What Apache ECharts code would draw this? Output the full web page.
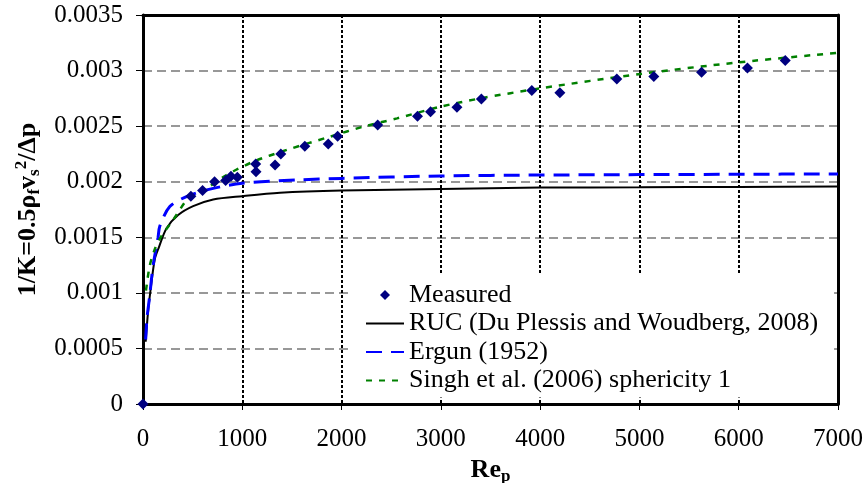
<!DOCTYPE html>
<html>
<head>
<meta charset="utf-8">
<script src="https://cdn.jsdelivr.net/npm/echarts@6/dist/echarts.min.js"></script>
<style>
html,body{margin:0;padding:0;background:#fff;}
#chart{width:867px;height:483px;}
</style>
</head>
<body>
<div id="chart"></div>
<script>
// ---- data ----
var measuredRe = [0, 482, 600, 721, 832, 886, 950, 1135, 1138, 1330, 1388, 1630, 1866, 1960, 2364, 2765, 2896, 3162, 3408, 3916, 4199, 4772, 5145, 5626, 6088, 6469];
var measuredVal = [0, 0.00187, 0.00192, 0.00200, 0.00201, 0.00205, 0.00204, 0.00216, 0.00209, 0.00215, 0.00225, 0.00232, 0.00234, 0.00241, 0.00251, 0.00259, 0.00263, 0.00267, 0.002745, 0.00282, 0.00280, 0.002925, 0.002946, 0.002985, 0.003024, 0.00309];

var rucRe  = [27, 50, 74, 118, 160, 236, 354, 505, 707, 1000, 1380, 2000, 3000, 4000, 5000, 6000, 7000];
var rucVal = [0.00056, 0.00082, 0.00101, 0.00130, 0.00141, 0.00158, 0.00170, 0.00178, 0.00184, 0.00187, 0.00190, 0.00192, 0.001935, 0.001947, 0.00195, 0.001953, 0.001956];

var ergunRe  = [27, 40, 67, 101, 152, 169, 270, 438, 707, 1000, 1549, 2000, 3000, 4000, 5000, 6000, 7000];
var ergunVal = [0.00058, 0.00077, 0.00097, 0.00124, 0.00150, 0.00160, 0.001776, 0.001866, 0.00194, 0.001986, 0.002016, 0.00203, 0.002052, 0.00206, 0.002064, 0.002067, 0.00207];

var singhRe  = [30, 67, 118, 178, 303, 472, 640, 842, 1111, 1448, 1886, 2222, 2559, 3000, 3401, 4000, 5010, 6010, 7000];
var singhVal = [0.00102, 0.00124, 0.00139, 0.00150, 0.001656, 0.001866, 0.00194, 0.00206, 0.00218, 0.002286, 0.002406, 0.002496, 0.00257, 0.002676, 0.00275, 0.00284, 0.00297, 0.003075, 0.00316];

var xTicks = [0, 1000, 2000, 3000, 4000, 5000, 6000, 7000];
var xTickLabels = ['0', '1000', '2000', '3000', '4000', '5000', '6000', '7000'];
var yTicks = [0, 0.0005, 0.001, 0.0015, 0.002, 0.0025, 0.003, 0.0035];
var yTickLabels = ['0', '0.0005', '0.001', '0.0015', '0.002', '0.0025', '0.003', '0.0035'];

var seriesNames = ['Measured', 'RUC (Du Plessis and Woudberg, 2008)', 'Ergun (1952)', 'Singh et al. (2006) sphericity 1'];

function pairs(xs, ys) { return xs.map(function (x, i) { return [x, ys[i]]; }); }
function lookup(ticks, labels) {
  return function (v) {
    for (var i = 0; i < ticks.length; i++) {
      if (Math.abs(ticks[i] - v) < 1e-9) return labels[i];
    }
    return '';
  };
}

var FONT = "'Liberation Serif', 'Times New Roman', serif";
var XMIN = xTicks[0], XMAX = xTicks[xTicks.length - 1];
var YMIN = yTicks[0], YMAX = yTicks[yTicks.length - 1];

var borderAxis = {
  axisLine: {show: true, onZero: false, lineStyle: {color: '#000', width: 3}},
  axisTick: {show: false}, axisLabel: {show: false}, splitLine: {show: false}
};

var chart = echarts.init(document.getElementById('chart'), null, {renderer: 'canvas'});
chart.setOption({
  animation: false,
  backgroundColor: '#fff',
  grid: {
    left: 143, top: 15, width: 695, height: 389,
    outerBoundsMode: 'none', containLabel: false, show: false
  },
  legend: {
    orient: 'vertical',
    left: 352, top: 275,
    padding: [6, 16, 3, 13],
    backgroundColor: '#fff',
    itemWidth: 38, itemHeight: 10, itemGap: 0.5,
    symbolKeepAspect: true,
    textStyle: {fontFamily: FONT, fontSize: 26, color: '#000', lineHeight: 28},
    data: [
      {name: seriesNames[0], icon: 'path://M5,0L10,5L5,10L0,5Z', itemStyle: {color: '#000080', opacity: 1}},
      {name: seriesNames[1], itemStyle: {opacity: 0}},
      {name: seriesNames[2], itemStyle: {opacity: 0}},
      {name: seriesNames[3], itemStyle: {opacity: 0}}
    ],
    selectedMode: false
  },
  xAxis: [{
    type: 'value', position: 'bottom',
    min: XMIN, max: XMAX, interval: 1000,
    name: '{b|Re}{sub|p}',
    nameLocation: 'middle', nameGap: 51,
    nameTextStyle: {
      rich: {
        b: {fontFamily: FONT, fontSize: 26, fontWeight: 'bold', color: '#000', lineHeight: 30},
        sub: {fontFamily: FONT, fontSize: 17, fontWeight: 'bold', color: '#000', lineHeight: 12, verticalAlign: 'bottom'}
      }
    },
    axisLine: {show: true, onZero: false, lineStyle: {color: '#000', width: 3}},
    axisTick: {show: true, inside: false, length: 6, lineStyle: {color: '#000', width: 1}},
    axisLabel: {fontFamily: FONT, fontSize: 25, color: '#000', margin: 23, formatter: lookup(xTicks, xTickLabels)},
    splitLine: {show: true, showMinLine: false, showMaxLine: false, lineStyle: {color: '#000', width: 2, type: [3, 2]}}
  }, Object.assign({type: 'value', position: 'top', min: XMIN, max: XMAX, interval: 1000}, borderAxis)],
  yAxis: [{
    type: 'value', position: 'left',
    min: YMIN, max: YMAX, interval: 0.0005,
    name: '{b|1/K=0.5ρ}{sub|f}{b|v}{sub|s}{sup|2}{b|/Δp}',
    nameLocation: 'middle', nameGap: 98, nameRotate: 90,
    nameTextStyle: {
      rich: {
        b: {fontFamily: FONT, fontSize: 26, fontWeight: 'bold', color: '#000', lineHeight: 30},
        sub: {fontFamily: FONT, fontSize: 17, fontWeight: 'bold', color: '#000', lineHeight: 12, verticalAlign: 'bottom'},
        sup: {fontFamily: FONT, fontSize: 17, fontWeight: 'bold', color: '#000', lineHeight: 12, verticalAlign: 'top'}
      }
    },
    axisLine: {show: true, onZero: false, lineStyle: {color: '#000', width: 3}},
    axisTick: {show: true, inside: false, length: 7, lineStyle: {color: '#000', width: 1}},
    axisLabel: {fontFamily: FONT, fontSize: 25, color: '#000', margin: 20, formatter: lookup(yTicks, yTickLabels)},
    splitLine: {show: true, showMinLine: false, showMaxLine: false, lineStyle: {color: '#777', width: 1.5, type: [9, 5]}}
  }, Object.assign({type: 'value', position: 'right', min: YMIN, max: YMAX, interval: 0.0005}, borderAxis)],
  series: [
    {
      name: seriesNames[0], type: 'scatter', z: 5, clip: false,
      symbol: 'diamond', symbolSize: 11,
      itemStyle: {color: '#000080', opacity: 1},
      data: pairs(measuredRe, measuredVal)
    },
    {
      name: seriesNames[1], type: 'line', z: 3, showSymbol: false, symbol: 'none', smooth: 0.3,
      lineStyle: {color: '#000', width: 2, type: 'solid'},
      itemStyle: {color: '#000'},
      data: pairs(rucRe, rucVal)
    },
    {
      name: seriesNames[2], type: 'line', z: 3, showSymbol: false, symbol: 'none', smooth: 0.3,
      lineStyle: {color: '#0000ff', width: 3, type: [16, 9]},
      itemStyle: {color: '#0000ff'},
      data: pairs(ergunRe, ergunVal)
    },
    {
      name: seriesNames[3], type: 'line', z: 3, showSymbol: false, symbol: 'none', smooth: 0.3,
      lineStyle: {color: '#008000', width: 2.5, type: [6, 7]},
      itemStyle: {color: '#008000'},
      data: pairs(singhRe, singhVal)
    }
  ]
});
</script>
</body>
</html>
